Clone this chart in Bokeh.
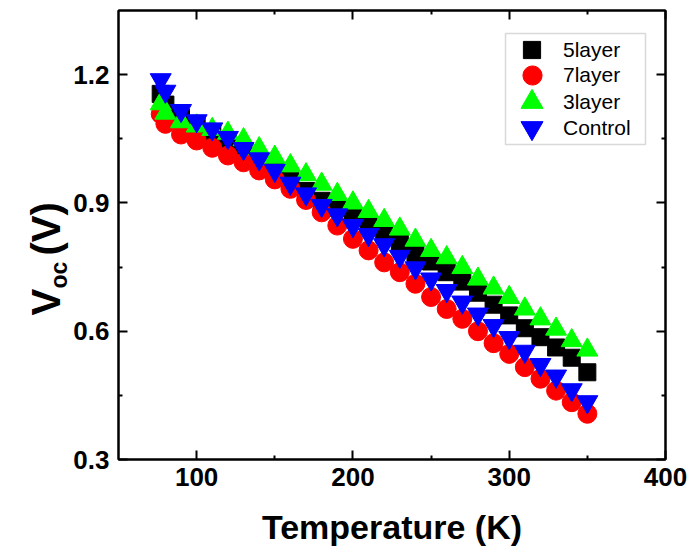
import math
from bokeh.plotting import figure
from bokeh.layouts import row
from bokeh.models import (Range1d, FixedTicker, LinearAxis, Label, Legend,
                          LegendItem, PrintfTickFormatter, BoxAnnotation,
                          CustomLabelingPolicy)
from bokeh.embed import file_html
from bokeh.resources import INLINE

# ---------------- data ----------------
temperature = [77, 80, 90, 100, 110, 120, 130, 140, 150, 160, 170, 180, 190, 200,
               210, 220, 230, 240, 250, 260, 270, 280, 290, 300, 310, 320, 330, 340, 350]
voc_5layer = [1.155, 1.130, 1.100, 1.080, 1.062, 1.045, 1.022, 0.998, 0.975, 0.952,
              0.928, 0.905, 0.888, 0.872, 0.851, 0.828, 0.808, 0.783, 0.763, 0.738,
              0.716, 0.690, 0.662, 0.637, 0.607, 0.586, 0.562, 0.538, 0.504]
voc_7layer = [1.108, 1.085, 1.060, 1.046, 1.029, 1.011, 0.995, 0.976, 0.955, 0.933,
              0.907, 0.878, 0.847, 0.816, 0.789, 0.761, 0.738, 0.711, 0.680, 0.652,
              0.629, 0.600, 0.572, 0.547, 0.516, 0.489, 0.461, 0.434, 0.407]
voc_3layer = [1.132, 1.110, 1.090, 1.080, 1.072, 1.063, 1.048, 1.027, 1.007, 0.987,
              0.966, 0.944, 0.920, 0.900, 0.880, 0.859, 0.839, 0.813, 0.789, 0.772,
              0.749, 0.722, 0.701, 0.679, 0.652, 0.629, 0.605, 0.578, 0.556]
voc_control = [1.188, 1.161, 1.116, 1.092, 1.073, 1.053, 1.027, 1.003, 0.976, 0.946,
               0.921, 0.894, 0.872, 0.847, 0.826, 0.802, 0.775, 0.748, 0.722, 0.695,
               0.668, 0.640, 0.613, 0.585, 0.553, 0.522, 0.495, 0.463, 0.435]
series_names = ["5layer", "7layer", "3layer", "Control"]
x_ticks = [100, 200, 300, 400]
x_minor_ticks = [150, 250, 350]
y_ticks = [0.3, 0.6, 0.9, 1.2]
y_minor_ticks = [0.45, 0.75, 1.05]

FONT = "Liberation Sans"
LEFT_W = 70          # width of the strip holding the y-axis title
H = 553
FRAME_BOTTOM = 459   # canvas y of the plot frame's bottom edge

# ---------------- main plot ----------------
p = figure(width=688 - LEFT_W, height=H, x_range=Range1d(50, 400), y_range=Range1d(0.3, 1.35),
           output_backend="svg", toolbar_location=None,
           min_border_left=117 - LEFT_W, min_border_right=23, min_border_top=10,
           min_border_bottom=H - FRAME_BOTTOM)
p.grid.visible = False
p.outline_line_color = "black"
p.outline_line_width = 2
p.background_fill_color = "white"
p.border_fill_color = "white"

xt = FixedTicker(ticks=x_ticks, minor_ticks=x_minor_ticks)
yt = FixedTicker(ticks=y_ticks, minor_ticks=y_minor_ticks)


def style_axis(ax, show_labels=True):
    ax.axis_line_color = "black"
    ax.axis_line_width = 2
    ax.major_tick_line_color = "black"
    ax.major_tick_line_width = 2
    ax.minor_tick_line_color = "black"
    ax.minor_tick_line_width = 2
    ax.major_tick_in = 9
    ax.major_tick_out = 0
    ax.minor_tick_in = 4
    ax.minor_tick_out = 0
    ax.major_label_text_font = FONT
    ax.major_label_text_font_style = "bold"
    ax.major_label_text_color = "black"
    if show_labels:
        ax.major_label_text_font_size = "26px"
    else:
        # mirror axis: ticks only, no labels drawn and no space reserved
        ax.major_label_text_font_size = "0px"
        ax.major_label_policy = CustomLabelingPolicy(
            code="for (const i of indices) { indices.unset(i) }\nreturn indices")
        ax.major_label_standoff = 0


xa = p.xaxis[0]
xa.ticker = xt
style_axis(xa)
xa.major_label_standoff = 8
xa.axis_label = "Temperature (K)"
xa.axis_label_text_font = FONT
xa.axis_label_text_font_style = "bold"
xa.axis_label_text_font_size = "34px"
xa.axis_label_text_color = "black"
xa.axis_label_standoff = 19

ya = p.yaxis[0]
ya.ticker = yt
ya.formatter = PrintfTickFormatter(format="%.1f")
style_axis(ya)
ya.major_label_standoff = 9

top_ax = LinearAxis(ticker=xt)
style_axis(top_ax, show_labels=False)
p.add_layout(top_ax, "above")
right_ax = LinearAxis(ticker=yt)
style_axis(right_ax, show_labels=False)
p.add_layout(right_ax, "right")

# ---------------- series ----------------
r5 = p.scatter(temperature, voc_5layer, marker="square", size=17,
               fill_color="#000000", line_color="#000000")
r7 = p.scatter(temperature, voc_7layer, marker="circle", size=19,
               fill_color="#ff0000", line_color="#ff0000")
r3 = p.scatter(temperature, voc_3layer, marker="triangle", size=21,
               fill_color="#00ff00", line_color="#00ff00")
rc = p.scatter(temperature, voc_control, marker="inverted_triangle", size=21,
               fill_color="#0000ff", line_color="#0000ff")

# ---------------- legend (box + one legend per entry) ----------------
FB = FRAME_BOTTOM
p.add_layout(BoxAnnotation(left=504 - 117, right=644 - 117, top=FB - 33, bottom=FB - 144,
                           left_units="screen", right_units="screen",
                           top_units="screen", bottom_units="screen",
                           fill_color="white", fill_alpha=1.0,
                           line_color="#808080", line_width=1.5))
glyph_px = [43, 48, 55, 55]
for i, (name, rend, gh) in enumerate(zip(series_names, [r5, r7, r3, rc], glyph_px)):
    cy = 49 + 26.3 * i
    left = 531 - gh / 2
    lg = Legend(items=[LegendItem(label=name, renderers=[rend])],
                location=(int(round(left - 117)), int(round(FB - (cy + gh / 2)))),
                padding=0, margin=0, glyph_width=gh, glyph_height=gh,
                label_standoff=int(round(31 - gh / 2)),
                label_text_font=FONT, label_text_font_size="21px", label_text_color="black",
                border_line_alpha=0, background_fill_alpha=0)
    p.add_layout(lg)

# ---------------- y-axis title strip (V_oc (V)) ----------------
ylab = figure(width=LEFT_W, height=H, x_range=Range1d(0, 1), y_range=Range1d(0, 1),
              output_backend="svg", toolbar_location=None,
              x_axis_type=None, y_axis_type=None, min_border=0)
ylab.grid.visible = False
ylab.outline_line_color = None
ylab.background_fill_color = "white"
ylab.border_fill_color = "white"

# the strip's frame is aligned with the main frame (bottom at FRAME_BOTTOM)
ang = math.pi / 2
common = dict(x_units="screen", y_units="screen", angle=ang, text_font=FONT,
              text_font_style="bold", text_align="left", text_baseline="alphabetic",
              text_color="black")
ylab.add_layout(Label(x=45, y=FRAME_BOTTOM - 315, text="V", text_font_size="40px", **common))
ylab.add_layout(Label(x=58, y=FRAME_BOTTOM - 288, text="oc", text_font_size="23px", **common))
ylab.add_layout(Label(x=45, y=FRAME_BOTTOM - 255, text="(V)", text_font_size="40px", **common))

layout = row(ylab, p, spacing=0)
open("out.html", "w").write(file_html(layout, INLINE))
